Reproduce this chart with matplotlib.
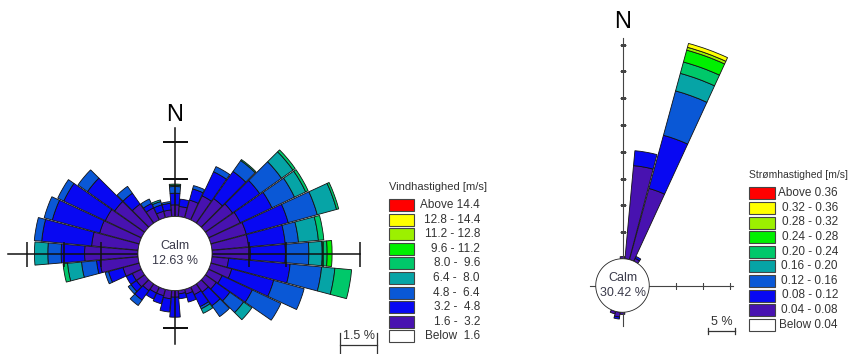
import numpy as np
import matplotlib
matplotlib.use("Agg")
import matplotlib.pyplot as plt
from matplotlib.patches import Rectangle
from matplotlib.lines import Line2D

plt.rcParams['font.family'] = ['Liberation Sans', 'DejaVu Sans']

W, H = 853, 354

# colours for the speed classes, lowest first
class_colors = ['#4812b0', '#0808f2', '#0a58d6', '#06a4a6', '#00c86a',
                '#00f000', '#9cf000', '#ffff00', '#ff0000']

wind_title = 'Vindhastighed [m/s]'
wind_labels = ['Above 14.4', '12.8 - 14.4', '11.2 - 12.8', '9.6 - 11.2', '8.0 -  9.6',
               '6.4 -  8.0', '4.8 -  6.4', '3.2 -  4.8', '1.6 -  3.2', 'Below  1.6']
current_title = 'Strømhastighed [m/s]'
current_labels = ['Above 0.36', '0.32 - 0.36', '0.28 - 0.32', '0.24 - 0.28', '0.20 - 0.24',
                  '0.16 - 0.20', '0.12 - 0.16', '0.08 - 0.12', '0.04 - 0.08', 'Below 0.04']

# wind rose (percent per 10 degree sector)
wind_dirs = np.arange(0, 360, 10)
wind_16_32 = [0.47, 0.41, 0.74, 1.08, 1.22, 1.35, 1.42, 1.49, 1.49, 1.55, 0.68, 0.88,
              0.61, 0.54, 0.41, 0.34, 0.20, 0.14, 0.27, 0.34, 0.27, 0.27, 0.34, 0.41,
              0.41, 0.68, 1.55, 2.16, 1.89, 1.66, 1.62, 1.49, 0.95, 0.54, 0.27, 0.27]
wind_32_48 = [0.47, 0.30, 0.47, 1.08, 1.35, 1.35, 1.42, 1.76, 1.49, 1.42, 2.50, 1.76,
              1.35, 0.68, 0.68, 0.54, 0.34, 0.20, 0.81, 0.54, 0.34, 0.27, 0.47, 0.27,
              0.27, 0.61, 0.14, 0.95, 2.03, 1.99, 1.86, 1.35, 0.54, 0.20, 0.27, 0.27]
wind_48_64 = [0.27, 0.00, 0.14, 0.23, 0.54, 1.08, 1.01, 1.22, 0.54, 0.95, 1.28, 1.28,
              1.28, 0.68, 0.54, 0.10, 0.00, 0.00, 0.00, 0.00, 0.00, 0.00, 0.27, 0.14,
              0.00, 0.14, 0.61, 0.54, 0.30, 0.34, 0.27, 0.47, 0.34, 0.20, 0.14, 0.07]
wind_64_80 = [0.05, 0.00, 0.00, 0.00, 0.00, 0.57, 0.50, 0.81, 0.81, 0.54, 0.54, 0.00,
              0.00, 0.41, 0.00, 0.20, 0.00, 0.00, 0.00, 0.00, 0.00, 0.00, 0.00, 0.00,
              0.00, 0.00, 0.57, 0.54, 0.00, 0.00, 0.00, 0.00, 0.00, 0.00, 0.07, 0.00]
wind_80_96 = [0.05, 0.00, 0.00, 0.00, 0.05, 0.11, 0.11, 0.09, 0.22, 0.20, 0.68, 0.00,
              0.00, 0.00, 0.00, 0.00, 0.00, 0.00, 0.00, 0.00, 0.00, 0.00, 0.00, 0.00,
              0.00, 0.00, 0.18, 0.00, 0.00, 0.00, 0.00, 0.00, 0.00, 0.00, 0.00, 0.00]
wind_96_112 = [0.00] * 9 + [0.20] + [0.00] * 26
wind_calm = 12.63

# current rose, only the sectors that hold any data
current_dirs = np.array([0, 10, 20, 30, 180, 190, 200])
cur_004_008 = [0.4, 17.5, 13.8, 0.6, 0.4, 0.9, 0.5]
cur_008_012 = [0.0, 2.8, 10.3, 0.4, 0.0, 0.4, 0.0]
cur_012_016 = [0.0, 0.0, 8.6, 0.0, 0.0, 0.0, 0.0]
cur_016_020 = [0.0, 0.0, 3.4, 0.0, 0.0, 0.0, 0.0]
cur_020_024 = [0.0, 0.0, 2.2, 0.0, 0.0, 0.0, 0.0]
cur_024_028 = [0.0, 0.0, 2.3, 0.0, 0.0, 0.0, 0.0]
cur_028_032 = [0.0, 0.0, 0.55, 0.0, 0.0, 0.0, 0.0]
cur_032_036 = [0.0, 0.0, 0.75, 0.0, 0.0, 0.0, 0.0]
current_calm = 30.42

fig = plt.figure(figsize=(W / 100, H / 100), dpi=100)


def rose_axes(cx, cy, px_per_unit, rmax):
    rad = rmax * px_per_unit
    ax = fig.add_axes([(cx - rad) / W, (H - cy - rad) / H, 2 * rad / W, 2 * rad / H],
                      projection='polar')
    ax.set_theta_zero_location('N')
    ax.set_theta_direction(-1)
    ax.set_ylim(0, rmax)
    ax.axis('off')
    ax.patch.set_visible(False)
    return ax


def draw_rose(ax, dirs, classes, calm_r, calm_pct, ends, tick_step, tick_ms, line_col, lw):
    theta = np.radians(dirs)
    bottom = np.full(len(dirs), float(calm_r))
    for vals, col in zip(classes, class_colors):
        vals = np.asarray(vals, dtype=float)
        m = vals > 0
        ax.bar(theta[m], vals[m], width=np.radians(9.5), bottom=bottom[m], color=col,
               edgecolor='#111111', linewidth=0.6, zorder=2)
        bottom = bottom + vals
    # cross with tick marks, every tick_step percent from the calm ring
    for ang, end in zip([0, 90, 180, 270], ends):
        t = np.radians(ang)
        ax.plot([t, t], [0, end], color=line_col, lw=lw, zorder=3)
        ticks = np.arange(calm_r + tick_step, end + 0.05, tick_step)
        mk = '_' if ang in (0, 180) else '|'
        ax.plot(np.full(len(ticks), t), ticks, ls='none', marker=mk, ms=tick_ms,
                mew=lw, color=line_col, zorder=3)
    th = np.linspace(0, 2 * np.pi, 181)
    ax.fill(th, np.full(len(th), calm_r), facecolor='white', edgecolor='#222222',
            lw=0.6, zorder=4)
    ax.text(0, 0, 'Calm\n%.2f %%' % calm_pct, ha='center', va='center', fontsize=9,
            color='#3a3a4a', linespacing=1.25, zorder=5)


def draw_legend(x, y0, title, labels, label_right, pw, title_fs):
    fig.text(x / W, 1 - (y0 - 18) / H, title, fontsize=title_fs, color='#333333',
             ha='left', va='center')
    cols = class_colors[::-1] + ['white']
    for i, (lab, col) in enumerate(zip(labels, cols)):
        yc = y0 + i * 14.6
        fig.add_artist(Rectangle((x / W, 1 - (yc + 6) / H), pw / W, 12 / H,
                                 transform=fig.transFigure, facecolor=col,
                                 edgecolor='#444444', lw=0.8))
        fig.text(label_right / W, 1 - yc / H, lab, fontsize=8.5, color='#333333',
                 ha='right', va='center')


def scale_bar(x0, y, length, label, ytop, ybot, ty):
    kw = dict(transform=fig.transFigure, color='#333333', lw=0.9)
    fig.add_artist(Line2D([x0 / W, (x0 + length) / W], [1 - y / H] * 2, **kw))
    for xx in (x0, x0 + length):
        fig.add_artist(Line2D([xx / W] * 2, [1 - ytop / H, 1 - ybot / H], **kw))
    fig.text((x0 + length / 2) / W, 1 - ty / H, label, fontsize=9, color='#333333',
             ha='center', va='center')


# left: wind
s1 = 24.7
ax1 = rose_axes(175, 253.5, s1, 8.0)
draw_rose(ax1, wind_dirs,
          [wind_16_32, wind_32_48, wind_48_64, wind_64_80, wind_80_96, wind_96_112],
          1.5, wind_calm, [5.1, 7.5, 3.65, 6.75], 1.5, 18, '#111111', 1.1)
ax1.text(0, 5.6, 'N', ha='center', va='center', fontsize=17, zorder=5)
scale_bar(340, 345, 1.5 * s1, '1.5 %', 333, 353, 336)
draw_legend(389, 205, wind_title, wind_labels, 480, 25, 8)

# right: current
s2 = 5.35
ax2 = rose_axes(622.5, 285.5, s2, 50.0)
draw_rose(ax2, current_dirs,
          [cur_004_008, cur_008_012, cur_012_016, cur_016_020, cur_020_024,
           cur_024_028, cur_028_032, cur_032_036],
          5.0, current_calm, [46.3, 20.7, 7.5, 6.1], 5.0, 4, '#444444', 0.8)
ax2.text(0, 49.3, 'N', ha='center', va='center', fontsize=17, zorder=5)
scale_bar(708, 331, 5 * s2, '5 %', 328, 334, 322)
draw_legend(749, 193.3, current_title, current_labels, 838, 26, 7.5)

fig.savefig('out.png', dpi=100)
